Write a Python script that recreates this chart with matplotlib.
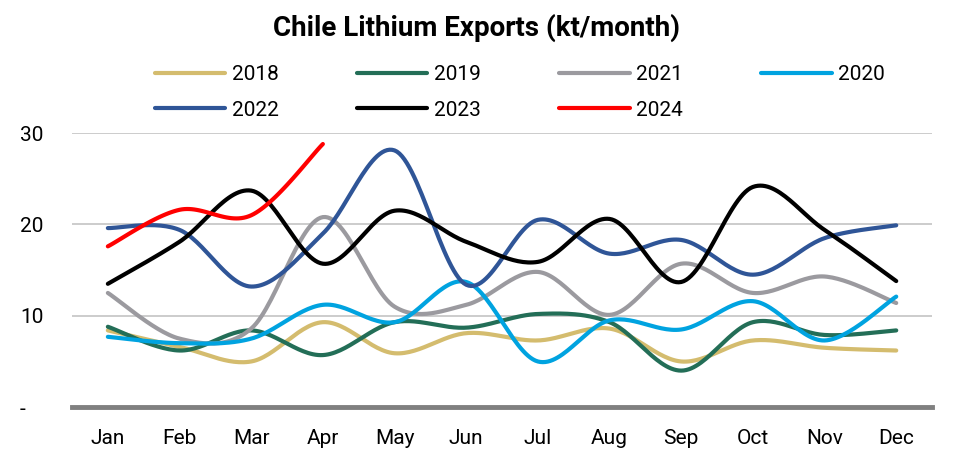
import numpy as np
import matplotlib.pyplot as plt

months = ['Jan', 'Feb', 'Mar', 'Apr', 'May', 'Jun', 'Jul', 'Aug', 'Sep', 'Oct', 'Nov', 'Dec']

# values (kt/month)
y2018 = [8.4, 6.6, 5.0, 9.3, 5.9, 8.1, 7.3, 8.6, 5.0, 7.3, 6.5, 6.2]
y2019 = [8.8, 6.2, 8.4, 5.7, 9.3, 8.7, 10.2, 9.3, 4.0, 9.3, 7.9, 8.4]
y2021 = [12.5, 7.5, 8.6, 20.8, 11.0, 11.2, 14.8, 10.1, 15.7, 12.5, 14.3, 11.4]
y2020 = [7.7, 7.0, 7.5, 11.2, 9.3, 13.7, 5.0, 9.5, 8.5, 11.6, 7.3, 12.1]
y2022 = [19.6, 19.4, 13.2, 19.0, 28.1, 13.4, 20.5, 16.8, 18.3, 14.5, 18.5, 19.9]
y2023 = [13.5, 18.1, 23.7, 15.7, 21.5, 18.1, 15.9, 20.6, 13.7, 24.1, 19.4, 13.8]
y2024 = [17.6, 21.6, 21.0, 28.8]

series = {
    '2018': (y2018, '#D4BC6E'),
    '2019': (y2019, '#236E57'),
    '2021': (y2021, '#9B9A9F'),
    '2020': (y2020, '#00A3E0'),
    '2022': (y2022, '#2F5597'),
    '2023': (y2023, '#000000'),
    '2024': (y2024, '#FF0000'),
}
# legend fills column by column, this gives rows 2018 2019 2021 2020 / 2022 2023 2024
legend_order = ['2018', '2022', '2019', '2023', '2021', '2024', '2020']


def smooth(x, y, n=30):
    # catmull-rom, like excel's smoothed line
    x = np.asarray(x, float)
    y = np.asarray(y, float)
    px = np.concatenate([[x[0]], x, [x[-1]]])
    py = np.concatenate([[y[0]], y, [y[-1]]])
    xs, ys = [], []
    for i in range(1, len(px) - 2):
        p0, p1, p2, p3 = (np.array([px[j], py[j]]) for j in (i - 1, i, i + 1, i + 2))
        c1 = p1 + (p2 - p0) / 6
        c2 = p2 - (p3 - p1) / 6
        t = np.linspace(0, 1, n)[:, None]
        b = (1 - t) ** 3 * p1 + 3 * (1 - t) ** 2 * t * c1 + 3 * (1 - t) * t ** 2 * c2 + t ** 3 * p2
        xs.append(b[:, 0])
        ys.append(b[:, 1])
    return np.concatenate(xs), np.concatenate(ys)


plt.rcParams['font.family'] = ['Roboto', 'DejaVu Sans']

fig = plt.figure(figsize=(9.54, 4.58), dpi=100)
ax = fig.add_axes([0.0755, 0.111, 0.9015, 0.5985])

xpos = np.arange(len(months))
lines = {}
for name, (vals, col) in series.items():
    sx, sy = smooth(xpos[:len(vals)], vals)
    lines[name], = ax.plot(sx, sy, color=col, lw=3.0, solid_capstyle='round',
                           label=name, clip_on=False)

ax.set_xlim(-0.5, 11.5)
ax.set_ylim(0, 30)
ax.set_yticks([0, 10, 20, 30])
ax.set_yticklabels(['-', '10', '20', '30'])
ax.set_xticks(xpos)
ax.set_xticklabels(months)
ax.grid(axis='y', color='#C8C8C8', lw=1.3)
ax.set_axisbelow(True)
for s in ['top', 'right', 'left']:
    ax.spines[s].set_visible(False)
ax.spines['bottom'].set_color('#808080')
ax.spines['bottom'].set_linewidth(3.5)
ax.tick_params(length=0, labelsize=15, colors='black')
ax.tick_params(axis='x', pad=16)
ax.tick_params(axis='y', pad=37.5)
for lab in ax.get_yticklabels():
    lab.set_horizontalalignment('left')

fig.text(0.5, 0.938, 'Chile Lithium Exports (kt/month)', ha='center', va='center',
         fontsize=20, fontweight='bold')

fig.legend([lines[k] for k in legend_order], legend_order,
           loc='center', bbox_to_anchor=(0.5446, 0.798), ncol=4, frameon=False,
           fontsize=15, handlelength=3.4, columnspacing=3.75, handletextpad=0.3,
           labelspacing=0.78, borderpad=0, borderaxespad=0)

plt.savefig('out.png')
